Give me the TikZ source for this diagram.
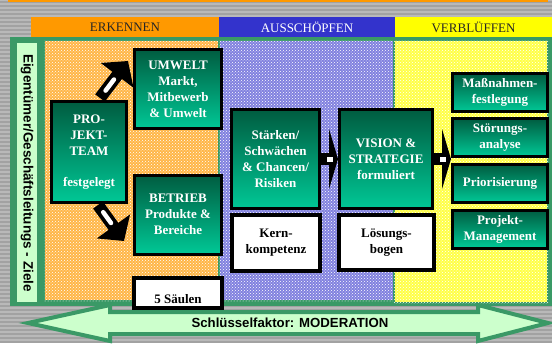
\documentclass[tikz,border=0pt]{standalone}
\usepackage{fontspec}
\setmainfont{Liberation Serif}
\setsansfont{Liberation Sans}
\usetikzlibrary{arrows.meta,calc,patterns}

\definecolor{framegreen}{HTML}{3A9966}
\definecolor{palegreen}{HTML}{CCFFCC}
\definecolor{boxtop}{HTML}{005C40}
\definecolor{boxbottom}{HTML}{00C896}
\definecolor{hdorange}{HTML}{FF9900}
\definecolor{hdblue}{HTML}{3333CC}
\definecolor{hdyellow}{HTML}{FFFF00}
\definecolor{stripegray}{HTML}{A2A2A2}

\tikzset{
  boxfont/.style={font=\bfseries\fontsize{13}{16}\selectfont},
  greenbox/.style={boxfont, draw=black, line width=3pt, top color=boxtop,
    bottom color=boxbottom, text=white, align=center, inner sep=1pt},
  whitebox/.style={boxfont, draw=black, line width=4pt, fill=white,
    text=black, align=center, inner sep=1pt},
  header/.style={font=\fontsize{13}{16}\selectfont, text=black!85,
    minimum height=20pt, inner sep=0pt},
  panel/.style={draw=framegreen, line width=1.5pt},
  blockarrow/.style={black, line width=12pt, -{Triangle[length=18pt,width=40pt]}},
  smallarrow/.style={black, line width=12pt, -{Triangle[length=9pt,width=60pt]}},
}

\begin{document}
\begin{tikzpicture}[x=1pt,y=-1pt]
    \useasboundingbox (0,0) rectangle (552,343);

    % striped grey background
    \fill[gray!55] (0,0) rectangle (552,343);
    \foreach \y in {2,6,...,342}
        \draw[stripegray, line width=1.5pt] (0,\y) -- (552,\y);
    \fill[hdorange] (8,0) rectangle (548,1.5);

    % phase headers
    \node[header, fill=hdorange, minimum width=188pt] (erkennen) at (125,27) {ERKENNEN};
    \node[header, fill=hdblue, minimum width=176pt, text=white] (ausschoepfen) at (307,27) {AUSSCHÖPFEN};
    \node[header, fill=hdyellow, minimum width=157pt] (verblueffen) at (473.5,27) {VERBLÜFFEN};

    % green frame and side bar
    \fill[framegreen] (10,37) rectangle (552,306);
    \fill[palegreen] (17,43) rectangle (37,302);
    \node[rotate=-90, font=\sffamily\bfseries\fontsize{13.5}{16}\selectfont] (ziele) at (27,173)
        {Eigentümer/Geschäftsleitungs - Ziele};

    % the three panels
    \filldraw[panel, fill=hdorange!72!white] (44,40) rectangle (219,301);
    \fill[pattern=crosshatch dots, pattern color=white] (44,40) rectangle (219,301);
    \filldraw[panel, fill=hdblue!62!white] (219,40) rectangle (394,301);
    \fill[pattern=crosshatch dots, pattern color=white] (219,40) rectangle (394,301);
    \filldraw[panel, fill=hdyellow!72!white] (394,40) rectangle (548,303);
    \fill[pattern=crosshatch dots, pattern color=white] (394,40) rectangle (548,303);

    % ERKENNEN
    \node[greenbox, minimum width=75pt, minimum height=101pt] (team) at (89,152)
        {PRO-\\JEKT-\\TEAM\\[15pt]festgelegt};
    \coordinate (upA) at (100,98);
    \coordinate (upB) at (128,61);
    \coordinate (dnA) at (98,205);
    \coordinate (dnB) at (124,241);
    \draw[blockarrow] (upA) -- (upB);
    \draw[white, line width=4.5pt, line cap=round] ($(upA)!0.2!(upB)$) -- ($(upA)!0.5!(upB)$);
    \draw[blockarrow] (dnA) -- (dnB);
    \draw[white, line width=4.5pt, line cap=round] ($(dnA)!0.2!(dnB)$) -- ($(dnA)!0.5!(dnB)$);
    \node[greenbox, minimum width=87pt, minimum height=79pt] (umwelt) at (178,89)
        {UMWELT\\Markt,\\Mitbewerb\\\& Umwelt};
    \node[greenbox, minimum width=87pt, minimum height=79pt] (betrieb) at (178,214.5)
        {BETRIEB\\Produkte \&\\Bereiche};
    \node[whitebox, minimum width=88pt, minimum height=30pt,
        label={[boxfont, yshift=-6pt]center:5 Säulen}] (saeulen) at (178,293) {};

    % AUSSCHOEPFEN
    \node[greenbox, minimum width=88pt, minimum height=99pt] (swot) at (275.5,159)
        {Stärken/\\Schwächen\\\& Chancen/\\Risiken};
    \node[whitebox, minimum width=88pt, minimum height=56pt] (kern) at (276,243)
        {Kern-\\kompetenz};
    \node[greenbox, minimum width=93pt, minimum height=99pt] (vision) at (386,159)
        {VISION \&\\STRATEGIE\\formuliert};
    \node[whitebox, minimum width=95pt, minimum height=55pt] (loesung) at (386.5,242.5)
        {Lösungs-\\bogen};

    % VERBLUEFFEN
    \node[greenbox, minimum width=95pt, minimum height=38pt] (massnahmen) at (500,92.5)
        {Maßnahmen-\\festlegung};
    \node[greenbox, minimum width=95pt, minimum height=38pt] (stoerung) at (500,137.5)
        {Störungs-\\analyse};
    \node[greenbox, minimum width=95pt, minimum height=38pt] (prio) at (500,183.5)
        {Priorisierung};
    \node[greenbox, minimum width=95pt, minimum height=38pt] (projekt) at (500,229)
        {Projekt-\\Management};

    % small arrows
    \draw[smallarrow] (swot.east) -- (vision.west);
    \fill[white] ($(swot.east)!0.5!(vision.west)$) +(-3,-2.5) rectangle +(3,2.5);
    \draw[smallarrow] (vision.east) -- (vision.east -| prio.west);
    \fill[white] ($(vision.east)!0.5!(vision.east -| prio.west)$) +(-3,-2.5) rectangle +(3,2.5);

    % bottom double arrow
    \draw[framegreen, line width=4pt, fill=palegreen]
        (28,323) -- (110,305) -- (110,312) -- (478,312) -- (478,305)
        -- (548,323) -- (478,341) -- (478,334) -- (110,334) -- (110,341) -- cycle;
    \node[font=\sffamily\bfseries\fontsize{13.2}{16}\selectfont] (moderation) at (290,323)
        {Schlüsselfaktor: MODERATION};
\end{tikzpicture}
\end{document}
